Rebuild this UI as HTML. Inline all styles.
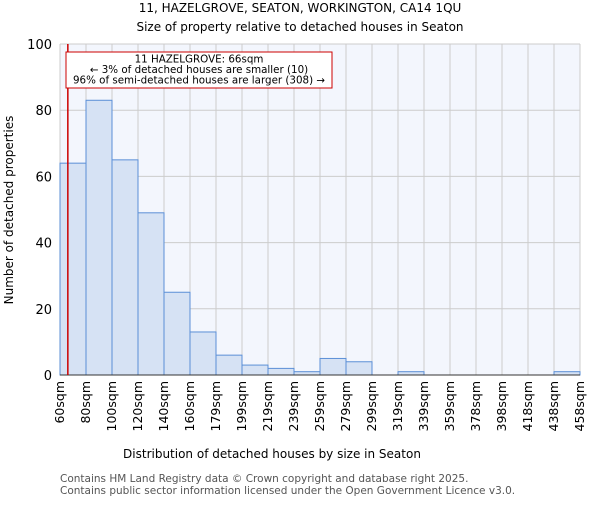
<!DOCTYPE html>
<html><head><meta charset="utf-8"><style>body{margin:0;background:#fff}svg{font-family:"DejaVu Sans","Liberation Sans",sans-serif}</style></head>
<body>
<svg id="c" width="600" height="500" xmlns="http://www.w3.org/2000/svg">
<text x="300" y="12" text-anchor="middle" font-size="12">11, HAZELGROVE, SEATON, WORKINGTON, CA14 1QU</text>
<text x="300" y="31" text-anchor="middle" font-size="12">Size of property relative to detached houses in Seaton</text>
<text x="272" y="458" text-anchor="middle" font-size="12">Distribution of detached houses by size in Seaton</text>
<text transform="translate(13,210) rotate(-90)" text-anchor="middle" font-size="12">Number of detached properties</text>
<text x="60" y="482" font-size="10.5" fill="#555">Contains HM Land Registry data © Crown copyright and database right 2025.</text>
<text x="60" y="494" font-size="10.5" fill="#555">Contains public sector information licensed under the Open Government Licence v3.0.</text>
</svg>
<script>
const categories=["60sqm","80sqm","100sqm","120sqm","140sqm","160sqm","179sqm","199sqm","219sqm","239sqm","259sqm","279sqm","299sqm","319sqm","339sqm","359sqm","378sqm","398sqm","418sqm","438sqm","458sqm"];
const values=[64,83,65,49,25,13,6,3,2,1,5,4,0,1,0,0,0,0,0,1];
const yTicks=[0,20,40,60,80,100];
const marker=66, binStart=60, binEnd=458;
const L=60,R=580,T=44,B=375,ymax=100;
const svg=document.getElementById('c'),NS="http://www.w3.org/2000/svg";
const bw=(R-L)/values.length;
const xs=i=>L+i*bw, ys=v=>B-(v/ymax)*(B-T);
function mk(t,a,p){const e=document.createElementNS(NS,t);for(const k in a)e.setAttribute(k,a[k]);(p||svg).appendChild(e);return e;}
const bg=mk('rect',{x:L,y:T,width:R-L,height:B-T,fill:'#f3f6fd'});


for(let i=0;i<=values.length;i++){const g=mk('line',{x1:xs(i),x2:xs(i),y1:T,y2:B,stroke:'#ccc','stroke-width':1});

}
yTicks.forEach(v=>{const g=mk('line',{x1:L,x2:R,y1:ys(v),y2:ys(v),stroke:'#ccc','stroke-width':1});


const t=mk('text',{x:L-8,y:ys(v)+5,'text-anchor':'end','font-size':13});t.textContent=v;

});
values.forEach((v,i)=>{if(v<=0)return;const r=mk('rect',{x:xs(i),y:ys(v),width:bw,height:B-ys(v),fill:'#d6e2f4',stroke:'#5b8fd6','stroke-width':1});

});
categories.forEach((c,i)=>{const x=xs(i)+4;const t=mk('text',{transform:`translate(${x},${B+6}) rotate(-90)`,'text-anchor':'end','font-size':12.5});t.textContent=c;

});
const ax=mk('line',{x1:L,x2:R,y1:B,y2:B,stroke:'#333'});


const mx=L+(marker-binStart)/(binEnd-binStart)*(R-L);
const ml=mk('line',{x1:mx,x2:mx,y1:T,y2:B,stroke:'#cc0000','stroke-width':1.5});


const g=mk('g',{});


mk('rect',{x:66,y:52,width:266,height:36,fill:'#fff',stroke:'#cc0000','stroke-width':1},g);
["11 HAZELGROVE: 66sqm","← 3% of detached houses are smaller (10)","96% of semi-detached houses are larger (308) →"].forEach((s,i)=>{const t=mk('text',{x:199,y:62.5+i*10.5,'text-anchor':'middle','font-size':10.3},g);t.textContent=s;

});
</script>
</body></html>
